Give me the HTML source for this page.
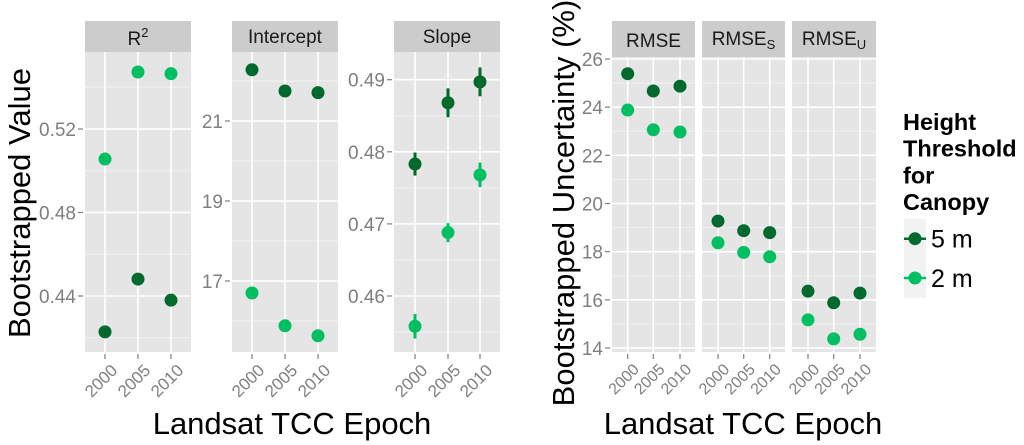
<!DOCTYPE html>
<html><head><meta charset="utf-8"><style>
body{margin:0;background:#fff}
svg{display:block;font-family:"Liberation Sans",Arial,sans-serif}
</style></head><body>
<svg id="c" width="1024" height="445" viewBox="0 0 1024 445"></svg>
<script>
const years=["2000","2005","2010"];
const r2Dark=[0.4228,0.4481,0.4380];
const r2Light=[0.5056,0.5473,0.5465];
const intDark=[22.28,21.75,21.71];
const intLight=[16.70,15.88,15.63];
const slopeDark=[0.4783,0.4868,0.4897];
const slopeDarkErr=[0.0016,0.0020,0.0020];
const slopeLight=[0.4558,0.4688,0.4768];
const slopeLightErr=[0.0017,0.0013,0.0017];
const rmseDark=[25.39,24.67,24.87];
const rmseLight=[23.88,23.06,22.97];
const rmsesDark=[19.27,18.87,18.79];
const rmsesLight=[18.37,17.97,17.79];
const rmseuDark=[16.36,15.88,16.28];
const rmseuLight=[15.17,14.38,14.57];
const r2Ticks=[0.44,0.48,0.52];
const intTicks=[17,19,21];
const slopeTicks=[0.46,0.47,0.48,0.49];
const rmseTicks=[14,16,18,20,22,24,26];
const DARK="#00692d",LIGHT="#00bf63";
const svg=document.getElementById('c');
const NS="http://www.w3.org/2000/svg";
function mk(tag,attrs,parent,text){const e=document.createElementNS(NS,tag);for(const k in attrs)e.setAttribute(k,attrs[k]);if(text!==undefined)e.textContent=text;(parent||svg).appendChild(e);return e;}
function panel(o){
  const g=mk('g',{});
  
  
  const y=v=>o.y0+(v-o.v0)*(o.y1-o.y0)/(o.v1-o.v0);
  const xs=i=>o.xc[i];
  mk('rect',{x:o.x0,y:o.top,width:o.x1-o.x0,height:o.bot-o.top,fill:'#e5e5e5'},g);
  const tk=o.ticks,d=tk[1]-tk[0];
  for(let v=tk[0]-d*1.5;v<=tk[tk.length-1]+d*1.6;v+=d){const yy=y(v);if(yy>o.top&&yy<o.bot)mk('line',{x1:o.x0,x2:o.x1,y1:yy,y2:yy,stroke:'#f2f2f2','stroke-width':1},g);}
  tk.forEach(v=>{const yy=y(v);mk('line',{x1:o.x0,x2:o.x1,y1:yy,y2:yy,stroke:'#fff','stroke-width':1.6},g);});
  years.forEach((yr,i)=>{mk('line',{x1:xs(i),x2:xs(i),y1:o.top,y2:o.bot,stroke:'#fff','stroke-width':1.6},g);
    mk('line',{x1:xs(i),x2:xs(i),y1:o.bot+2,y2:o.bot+7,stroke:'#7f7f7f','stroke-width':1.2},g);
    const t=mk('text',{x:xs(i)+5,y:o.bot+11,'font-size':o.xfs,fill:'#7f7f7f','text-anchor':'end',transform:`rotate(-45 ${xs(i)+5} ${o.bot+11})`,'dominant-baseline':'hanging'},g,yr);
    
    
  });
  if(o.yl){tk.forEach(v=>{const yy=y(v);mk('line',{x1:o.x0-7,x2:o.x0-2,y1:yy,y2:yy,stroke:'#7f7f7f','stroke-width':1.2},g);
    const t=mk('text',{x:o.x0-9,y:yy+7,'font-size':19,fill:'#7f7f7f','text-anchor':'end'},g,o.fmt(v));
    
    });}
  mk('rect',{x:o.x0,y:21,width:o.x1-o.x0,height:o.top-21,fill:'#cccccc'},g);
  const st=mk('text',{x:(o.x0+o.x1)/2,y:o.stripY,'font-size':19,'text-anchor':'middle',fill:'#1a1a1a'},g);
  st.innerHTML=o.title;
  
  
  [[o.dark,DARK,o.darkErr],[o.light,LIGHT,o.lightErr]].forEach(([vals,col,err])=>{
    vals.forEach((v,i)=>{
      if(err){const l=mk('line',{x1:xs(i),x2:xs(i),y1:y(v-err[i]),y2:y(v+err[i]),stroke:col,'stroke-width':3},g);
        
        }
      const c=mk('circle',{cx:xs(i),cy:y(v),r:6.5,fill:col},g);
      
      
    });
  });
}
const f2=v=>v.toFixed(2), f0=v=>String(v);
panel({name:'r2',x0:85,x1:191,top:52,bot:352,xc:[105,138,171],v0:0.44,y0:296,v1:0.52,y1:129,ticks:r2Ticks,yl:true,fmt:f2,dark:r2Dark,light:r2Light,title:'R<tspan dy="-8" font-size="13">2</tspan>',stripY:45,xfs:17});
panel({name:'intercept',x0:232,x1:338,top:52,bot:352,xc:[252,285,318],v0:17,y0:281,v1:21,y1:121,ticks:intTicks,yl:true,fmt:f0,dark:intDark,light:intLight,title:'Intercept',stripY:43,xfs:17});
panel({name:'slope',x0:394,x1:500,top:52,bot:352,xc:[415,448,480],v0:0.46,y0:296,v1:0.49,y1:79.7,ticks:slopeTicks,yl:true,fmt:f2,dark:slopeDark,light:slopeLight,darkErr:slopeDarkErr,lightErr:slopeLightErr,title:'Slope',stripY:43,xfs:17});
panel({name:'rmse',x0:612,x1:695,top:57,bot:352,xc:[627.7,653.3,680],v0:14,y0:348,v1:26,y1:59,ticks:rmseTicks,yl:true,fmt:f0,dark:rmseDark,light:rmseLight,title:'RMSE',stripY:47,xfs:16});
panel({name:'rmse-s',x0:702,x1:785,top:57,bot:352,xc:[718,743.7,769.7],v0:14,y0:348,v1:26,y1:59,ticks:rmseTicks,yl:false,fmt:f0,dark:rmsesDark,light:rmsesLight,title:'RMSE<tspan dy="4" font-size="13">S</tspan>',stripY:45,xfs:16});
panel({name:'rmse-u',x0:792,x1:876,top:57,bot:352,xc:[808,833.7,860],v0:14,y0:348,v1:26,y1:59,ticks:rmseTicks,yl:false,fmt:f0,dark:rmseuDark,light:rmseuLight,title:'RMSE<tspan dy="4" font-size="13">U</tspan>',stripY:45,xfs:16});
function txt(a,s,name){const t=mk('text',a,svg,s);return t;}
txt({x:30,y:203,'font-size':31,'text-anchor':'middle',transform:'rotate(-90 30 203)',fill:'#000'},'Bootstrapped Value','y-axis-title-left');
txt({x:292,y:434,'font-size':31,'text-anchor':'middle',fill:'#000'},'Landsat TCC Epoch','x-axis-title-left');
txt({x:574,y:203,'font-size':31,'text-anchor':'middle',transform:'rotate(-90 574 203)',fill:'#000'},'Bootstrapped Uncertainty (%)','y-axis-title-right');
txt({x:743,y:434,'font-size':31,'text-anchor':'middle',fill:'#000'},'Landsat TCC Epoch','x-axis-title-right');
['Height','Threshold','for','Canopy'].forEach((s,i)=>txt({x:903,y:130+i*26.7,'font-size':23.5,'font-weight':'bold',fill:'#000'},s,'legend-title'));
[[DARK,'5 m',238.7],[LIGHT,'2 m',278]].forEach(([c,l,yy])=>{
  const g=mk('g',{});
  
  
  mk('rect',{x:904,y:yy-20,width:22,height:40,fill:'#f2f2f2'},g);
  mk('line',{x1:904,x2:926,y1:yy,y2:yy,stroke:c,'stroke-width':2.5},g);
  mk('circle',{cx:915,cy:yy,r:6.5,fill:c},g);
  mk('text',{x:931,y:yy+9,'font-size':25,fill:'#000'},g,l);
});
</script>
</body></html>
